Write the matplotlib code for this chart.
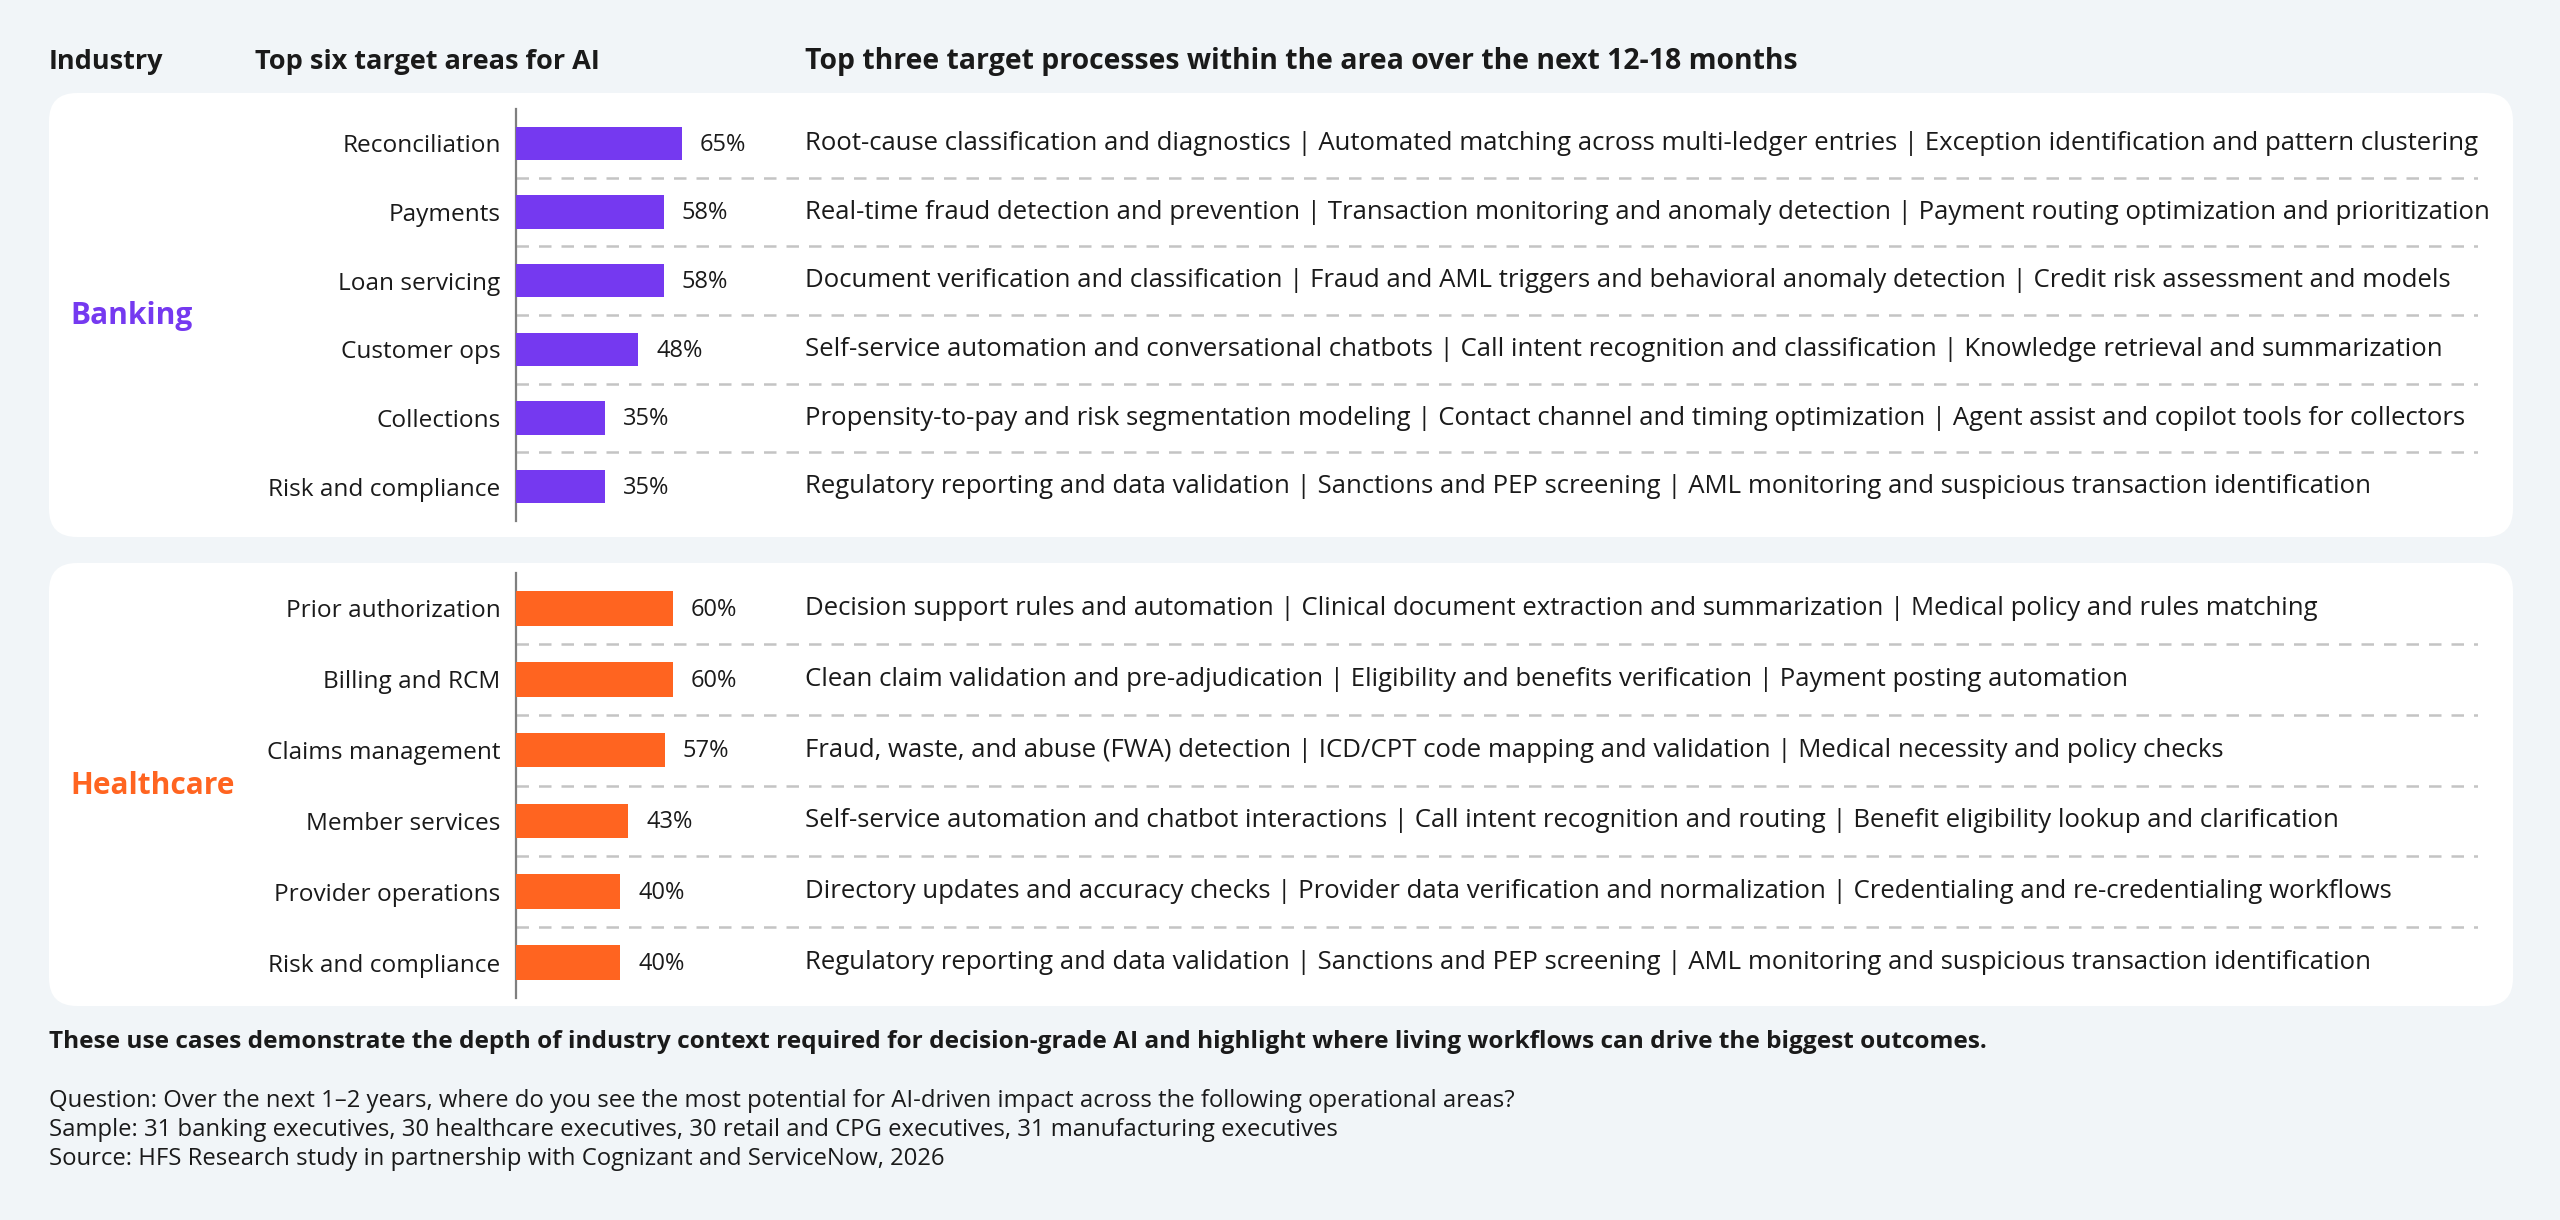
import matplotlib.pyplot as plt
from matplotlib.patches import FancyBboxPatch
from matplotlib.transforms import blended_transform_factory

plt.rcParams['font.family'] = ['Open Sans', 'DejaVu Sans']

W, H = 2560, 1220
BG = '#F1F5F8'
PURPLE = '#7539F0'
ORANGE = '#FF6420'
TXT = '#1A1A1A'

# data
industries = ['Banking', 'Healthcare']
colors = [PURPLE, ORANGE]

bank_areas = ['Reconciliation', 'Payments', 'Loan servicing', 'Customer ops',
              'Collections', 'Risk and compliance']
bank_vals = [65, 58, 58, 48, 35, 35]
bank_procs = [
    'Root-cause classification and diagnostics | Automated matching across multi-ledger entries | Exception identification and pattern clustering',
    'Real-time fraud detection and prevention | Transaction monitoring and anomaly detection | Payment routing optimization and prioritization',
    'Document verification and classification | Fraud and AML triggers and behavioral anomaly detection | Credit risk assessment and models',
    'Self-service automation and conversational chatbots | Call intent recognition and classification | Knowledge retrieval and summarization',
    'Propensity-to-pay and risk segmentation modeling | Contact channel and timing optimization | Agent assist and copilot tools for collectors',
    'Regulatory reporting and data validation | Sanctions and PEP screening | AML monitoring and suspicious transaction identification',
]

hc_areas = ['Prior authorization', 'Billing and RCM', 'Claims management', 'Member services',
            'Provider operations', 'Risk and compliance']
hc_vals = [60, 60, 57, 43, 40, 40]
hc_procs = [
    'Decision support rules and automation | Clinical document extraction and summarization | Medical policy and rules matching',
    'Clean claim validation and pre-adjudication | Eligibility and benefits verification | Payment posting automation',
    'Fraud, waste, and abuse (FWA) detection | ICD/CPT code mapping and validation | Medical necessity and policy checks',
    'Self-service automation and chatbot interactions | Call intent recognition and routing | Benefit eligibility lookup and clarification',
    'Directory updates and accuracy checks | Provider data verification and normalization | Credentialing and re-credentialing workflows',
    'Regulatory reporting and data validation | Sanctions and PEP screening | AML monitoring and suspicious transaction identification',
]

headers = ['Industry', 'Top six target areas for AI',
           'Top three target processes within the area over the next 12-18 months']
footer_bold = ('These use cases demonstrate the depth of industry context required for '
               'decision-grade AI and highlight where living workflows can drive the biggest outcomes.')
notes = [
    'Question: Over the next 1\u20132 years, where do you see the most potential for AI-driven impact across the following operational areas?',
    'Sample: 31 banking executives, 30 healthcare executives, 30 retail and CPG executives, 31 manufacturing executives',
    'Source: HFS Research study in partnership with Cognizant and ServiceNow, 2026',
]

fig = plt.figure(figsize=(W / 100, H / 100), dpi=100, facecolor=BG)
bg = fig.add_axes([0, 0, 1, 1])
bg.set_xlim(0, W)
bg.set_ylim(H, 0)
bg.axis('off')

# header row
for x, t, fs in zip([49, 255, 805], headers, [19.5, 19.5, 20.4]):
    bg.text(x, 62, t, fontsize=fs, fontweight='bold', color=TXT, va='center', ha='left')

# panel layout: (panel top, panel bottom, axis top, axis bottom, px per %)
panels = [(93, 537, 109, 521, 2.55), (563, 1006, 573, 998, 2.61)]
groups = [(bank_areas, bank_vals, bank_procs), (hc_areas, hc_vals, hc_procs)]
ax_left, ax_right = 516, 2478

for (ptop, pbot, atop, abot, ppp), (areas, vals, procs), name, col in zip(panels, groups, industries, colors):
    box = FancyBboxPatch((49 + 28, ptop + 28), 2513 - 49 - 56, pbot - ptop - 56,
                         boxstyle='round,pad=28', facecolor='white', edgecolor='none', zorder=0)
    bg.add_patch(box)
    bg.text(70, (ptop + pbot) / 2 + 1, name, fontsize=21.5, fontweight='bold', color=col,
            va='center', ha='left')

    ax = fig.add_axes([ax_left / W, 1 - abot / H, (ax_right - ax_left) / W, (abot - atop) / H])
    ax.patch.set_alpha(0)
    n = len(areas)
    pos = list(range(n))
    ax.barh(pos, vals, height=0.49, color=col, zorder=3)
    ax.set_xlim(0, (ax_right - ax_left) / ppp)
    ax.set_ylim(n - 0.5, -0.5)
    ax.set_yticks(pos)
    ax.set_yticklabels(areas, fontsize=17.6, color=TXT)
    ax.tick_params(axis='y', length=0, pad=11)
    ax.set_xticks([])
    for s in ['top', 'right', 'bottom']:
        ax.spines[s].set_visible(False)
    ax.spines['left'].set_color('#7F7F7F')
    ax.spines['left'].set_linewidth(1.6)
    for i in range(n - 1):
        ax.axhline(i + 0.5, color='#C4C4C4', lw=1.8, ls=(0, (5, 4)), zorder=1)
    tr = blended_transform_factory(ax.transAxes, ax.transData)
    for i, (v, p) in enumerate(zip(vals, procs)):
        ax.annotate(f'{v}%', (v, i), xytext=(13, -1), textcoords='offset points',
                    fontsize=17, color=TXT, va='center', ha='left')
        ax.text((805 - ax_left) / (ax_right - ax_left), i, p, transform=tr,
                fontsize=18.5, color=TXT, va='center', ha='left')

bg.text(49, 1042, footer_bold, fontsize=17.6, fontweight='bold', color=TXT, va='center', ha='left')
for k, t in enumerate(notes):
    bg.text(49, 1101 + 29 * k, t, fontsize=17.2, color=TXT, va='center', ha='left')

fig.savefig('out.png', dpi=100, facecolor=BG)
